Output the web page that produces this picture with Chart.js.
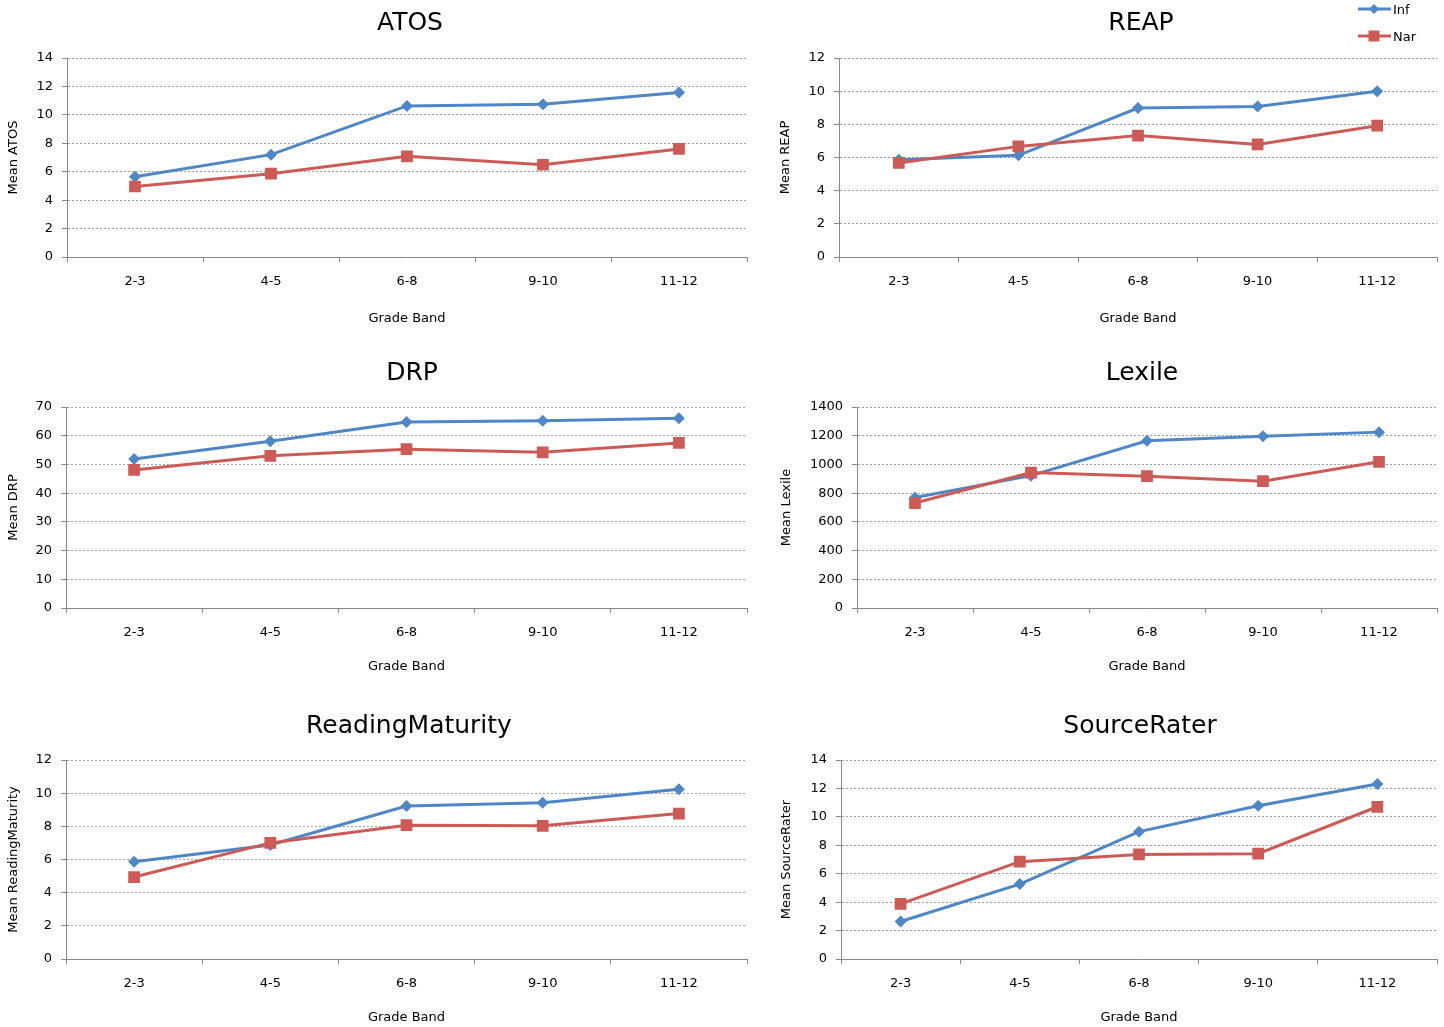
<!DOCTYPE html>
<html><head><meta charset="utf-8">
<script src="https://cdn.jsdelivr.net/npm/chart.js@4.4.1/dist/chart.umd.min.js"></script>
<style>
html,body{margin:0;padding:0;background:#fff;overflow:hidden;}
#wrap{position:relative;width:1444px;height:1027px;overflow:hidden;background:#fff;}
#wrap canvas{position:absolute;}
</style></head><body><div id="wrap"></div>
<script>
// ---- data ----
const categories = ['2-3', '4-5', '6-8', '9-10', '11-12'];
const seriesNames = ['Inf', 'Nar'];
const atosInf = [5.64, 7.2, 10.63, 10.75, 11.58];
const atosNar = [4.96, 5.86, 7.08, 6.49, 7.6];
const reapInf = [5.87, 6.13, 8.98, 9.07, 9.99];
const reapNar = [5.67, 6.67, 7.32, 6.79, 7.92];
const drpInf = [51.9, 58.1, 64.8, 65.2, 66.1];
const drpNar = [48.1, 53.0, 55.3, 54.2, 57.5];
const lexileInf = [769, 922, 1165, 1197, 1225];
const lexileNar = [731, 943, 918, 883, 1018];
const rmInf = [5.87, 6.88, 9.22, 9.42, 10.23];
const rmNar = [4.94, 7.0, 8.07, 8.03, 8.77];
const srInf = [2.64, 5.27, 8.96, 10.78, 12.31];
const srNar = [3.88, 6.85, 7.36, 7.41, 10.71];
const panelTitles = ['ATOS', 'REAP', 'DRP', 'Lexile', 'ReadingMaturity', 'SourceRater'];
const yAxisTitles = ['Mean ATOS', 'Mean REAP', 'Mean DRP', 'Mean Lexile', 'Mean ReadingMaturity', 'Mean SourceRater'];
const yMax = [14, 12, 70, 1400, 12, 14];
const yStep = [2, 2, 10, 200, 2, 2];
const xAxisTitle = 'Grade Band';
const infSeries = [atosInf, reapInf, drpInf, lexileInf, rmInf, srInf];
const narSeries = [atosNar, reapNar, drpNar, lexileNar, rmNar, srNar];

// ---- styling / layout (page pixels) ----
const BLUE = '#4F86C5';
const RED = '#CC5B57';
const AXIS = '#8a8a8a';
const GRID = '#a0a0a0';
const FONT = 'DejaVu Sans';
const boxes = [
  {cl:0,   ct:0,   ch:340, pl:67,  pr:747,  pt:58,  pb:257, tx:410,  ty:23,  yt:14,  xt:319},
  {cl:760, ct:0,   ch:340, pl:839, pr:1437, pt:58,  pb:257, tx:1141, ty:23,  yt:786, xt:319},
  {cl:0,   ct:345, ch:345, pl:66,  pr:747,  pt:407, pb:608, tx:412,  ty:373, yt:14,  xt:667},
  {cl:760, ct:345, ch:345, pl:857, pr:1437, pt:407, pb:608, tx:1142, ty:373, yt:787, xt:667},
  {cl:0,   ct:690, ch:337, pl:66,  pr:747,  pt:760, pb:959, tx:409,  ty:726, yt:14,  xt:1018},
  {cl:760, ct:690, ch:337, pl:841, pr:1437, pt:760, pb:959, tx:1140, ty:726, yt:787, xt:1018}
];

const legendPlugin = {
  id: 'cornerLegend',
  afterDraw(chart, args, opts) {
    if (!opts || !opts.show) return;
    const ctx = chart.ctx;
    const ox = opts.ox, oy = opts.oy;
    const rows = [
      {y: 9, ty: 11, shape: 'diamond'},
      {y: 36, ty: 38, shape: 'square'}
    ];
    chart.data.datasets.forEach((ds, i) => {
      const r = rows[i];
      const y = r.y - oy;
      ctx.save();
      ctx.strokeStyle = ds.borderColor;
      ctx.fillStyle = ds.borderColor;
      ctx.lineWidth = 3;
      ctx.beginPath();
      ctx.moveTo(1358 - ox, y);
      ctx.lineTo(1391 - ox, y);
      ctx.stroke();
      const cx = 1374 - ox;
      if (r.shape === 'diamond') {
        ctx.beginPath();
        ctx.moveTo(cx, y - 5); ctx.lineTo(cx + 5, y); ctx.lineTo(cx, y + 5); ctx.lineTo(cx - 5, y);
        ctx.closePath(); ctx.fill();
      } else {
        ctx.fillRect(cx - 5.5, y - 5.5, 11, 11);
      }
      ctx.fillStyle = '#000';
      ctx.font = '13px "' + FONT + '"';
      ctx.textAlign = 'left';
      ctx.textBaseline = 'middle';
      ctx.fillText(ds.label, 1393 - ox, r.ty - oy);
      ctx.restore();
    });
  }
};

const wrap = document.getElementById('wrap');
boxes.forEach((b, i) => {
  const cw = 2 * b.tx - 2 * b.cl;
  const cv = document.createElement('canvas');
  cv.width = cw; cv.height = b.ch;
  cv.style.left = b.cl + 'px'; cv.style.top = b.ct + 'px';
  cv.style.width = cw + 'px'; cv.style.height = b.ch + 'px';
  wrap.appendChild(cv);
  const titlePadTop = b.ty - b.ct - 15;
  const titlePadBottom = (b.pt - b.ct) - titlePadTop - 30;
  new Chart(cv, {
    type: 'line',
    data: {
      labels: categories,
      datasets: [
        {label: seriesNames[0], data: infSeries[i], borderColor: BLUE, backgroundColor: BLUE,
         borderWidth: 3, pointStyle: 'rectRot', pointRadius: 6, pointBorderWidth: 0,
         pointBackgroundColor: BLUE, tension: 0, order: 1},
        {label: seriesNames[1], data: narSeries[i], borderColor: RED, backgroundColor: RED,
         borderWidth: 3, pointStyle: 'rect', pointRadius: 8.3, pointBorderWidth: 0,
         pointBackgroundColor: RED, tension: 0, order: 0}
      ]
    },
    options: {
      responsive: false,
      devicePixelRatio: 1,
      animation: false,
      events: [],
      layout: {padding: 0},
      plugins: {
        legend: {display: false},
        tooltip: {enabled: false},
        title: {display: true, text: panelTitles[i], color: '#000',
          font: {family: FONT, size: 25, weight: 'normal', lineHeight: 1.2},
          padding: {top: titlePadTop, bottom: titlePadBottom}},
        cornerLegend: {show: i === 1, ox: b.cl, oy: b.ct}
      },
      scales: {
        x: {
          offset: true,
          ticks: {color: '#000', font: {family: FONT, size: 13}, padding: 12, maxRotation: 0, autoSkip: false},
          grid: {display: true, drawOnChartArea: false, drawTicks: true, tickLength: 5, tickColor: AXIS, offset: true},
          border: {display: true, color: AXIS, width: 1},
          title: {display: true, text: xAxisTitle, color: '#000', font: {family: FONT, size: 13, lineHeight: 1.2},
            padding: {top: 0, bottom: (b.ct + b.ch) - b.xt - 7.8}},
          afterFit: s => { s.height = (b.ct + b.ch) - b.pb; }
        },
        y: {
          min: 0, max: yMax[i],
          ticks: {stepSize: yStep[i], color: '#000', font: {family: FONT, size: 13}, padding: 9,
            callback: v => String(v)},
          grid: {display: true, color: GRID, lineWidth: 1, tickLength: 5, tickColor: AXIS, drawTicks: true},
          border: {display: true, color: AXIS, width: 1, dash: [2, 2]},
          title: {display: true, text: yAxisTitles[i], color: '#000', font: {family: FONT, size: 13, lineHeight: 1.2},
            padding: {top: b.yt - b.cl - 7.8, bottom: 0}},
          afterFit: s => { s.width = b.pl - b.cl; }
        },
        yR: {
          position: 'right', display: true,
          ticks: {display: false}, grid: {display: false}, border: {display: false},
          afterFit: s => { s.width = (b.cl + cw) - b.pr; }
        }
      }
    },
    plugins: [legendPlugin]
  });
});
</script></body></html>
